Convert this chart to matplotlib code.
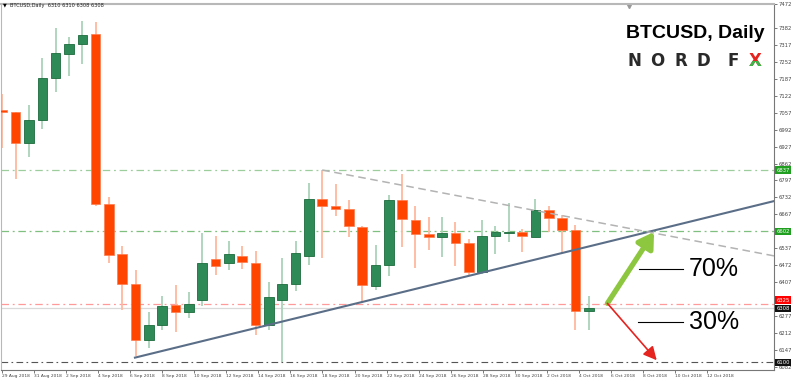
import numpy as np
import matplotlib.pyplot as plt
from matplotlib.patches import Rectangle

# daily BTCUSD candles
opens = [7069, 7058, 6939, 7027, 7190, 7281, 7320, 7360, 6707, 6517,
         6402, 6185, 6242, 6318, 6292, 6337, 6497, 6482, 6509, 6482,
         6242, 6337, 6402, 6506, 6727, 6700, 6687, 6619, 6392, 6474,
         6722, 6646, 6592, 6581, 6594, 6557, 6445, 6585, 6597, 6600,
         6581, 6684, 6655, 6608, 6297]
highs = [7130, 7060, 7085, 7267, 7382, 7348, 7409, 7405, 6734, 6547,
         6452, 6292, 6353, 6395, 6368, 6597, 6585, 6566, 6547, 6528,
         6406, 6498, 6566, 6788, 6837, 6782, 6722, 6621, 6551, 6741,
         6823, 6700, 6658, 6658, 6636, 6573, 6645, 6623, 6710, 6612,
         6725, 6700, 6665, 6627, 6354]
lows = [6921, 6802, 6887, 6994, 7135, 7199, 7243, 6699, 6482, 6299,
        6124, 6154, 6223, 6215, 6269, 6315, 6433, 6452, 6459, 6204,
        6223, 6101, 6375, 6473, 6499, 6661, 6579, 6331, 6378, 6429,
        6543, 6462, 6531, 6502, 6468, 6433, 6440, 6515, 6560, 6524,
        6581, 6600, 6519, 6223, 6223]
closes = [7058, 6939, 7030, 7191, 7284, 7320, 7355, 6707, 6513, 6402,
          6185, 6242, 6315, 6292, 6322, 6482, 6471, 6517, 6486, 6242,
          6349, 6402, 6520, 6727, 6700, 6687, 6621, 6395, 6474, 6722,
          6649, 6592, 6581, 6594, 6557, 6445, 6585, 6598, 6600, 6585,
          6684, 6653, 6608, 6295, 6308]

date_labels = ["29 Aug 2018", "31 Aug 2018", "2 Sep 2018", "4 Sep 2018",
               "6 Sep 2018", "8 Sep 2018", "10 Sep 2018", "12 Sep 2018",
               "14 Sep 2018", "16 Sep 2018", "18 Sep 2018", "20 Sep 2018",
               "22 Sep 2018", "24 Sep 2018", "26 Sep 2018", "28 Sep 2018",
               "30 Sep 2018", "2 Oct 2018", "4 Oct 2018", "6 Oct 2018",
               "8 Oct 2018", "10 Oct 2018", "12 Oct 2018"]
# scale labels (the ones hidden behind price tags are left out)
price_ticks = [6082, 6147, 6212, 6277, 6407, 6472, 6537, 6667,
               6732, 6797, 6862, 6927, 6992, 7057, 7122, 7187, 7252, 7317,
               7382, 7472]

level_hi = 6837      # upper horizontal
level_mid = 6602     # breakout level
level_sup = 6325     # red level
level_bid = 6308     # last price
level_low = 6100     # bottom level

support = ([9.95, 57.9], [6118, 6718])
resist = ([24, 57.9], [6837, 6508])

UP, DN = '#2e8b57', '#ff4500'

fig = plt.figure(figsize=(8, 3.81), dpi=100)
ax = fig.add_axes([1/800, 11/381, 773/800, 366/381])
ax.set_xlim(-0.1, 57.9)
ax.set_ylim(6070.6, 7473.4)

x = np.arange(len(opens))
o, h, l, c = map(np.array, (opens, highs, lows, closes))
bull = c >= o
wick_col = np.where(bull, '#aad3b8', '#ffb99e')
ax.vlines(x, l, h, colors=wick_col, lw=1.3, zorder=2)
body = np.maximum(np.abs(c - o), 3)
ax.bar(x[bull], body[bull], bottom=np.minimum(o, c)[bull], width=0.72,
       color=UP, edgecolor='#1d6b3d', lw=0.6, zorder=3)
ax.bar(x[~bull], body[~bull], bottom=np.minimum(o, c)[~bull], width=0.72,
       color=DN, edgecolor='#ff7a4a', lw=0.5, zorder=3)

dd = (0, (6, 3, 1.5, 3))
ax.axhline(level_hi, color='#9dcc9d', lw=0.9, ls=dd, zorder=1)
ax.axhline(level_mid, color='#7fbf7f', lw=0.9, ls=dd, zorder=1)
ax.axhline(level_sup, color='#ff9a9a', lw=0.9, ls=dd, zorder=1)
ax.axhline(level_bid, color='#d9d9d9', lw=0.9, zorder=1)
ax.axhline(level_low, color='#555555', lw=0.8, ls=dd, zorder=1)

ax.plot(*support, color='#5b6e88', lw=1.5, zorder=4)
ax.plot(*resist, color='#b3b3b3', lw=1.1, ls=(0, (5, 3)), zorder=4)

# scenario arrows
ax.annotate('', xy=(48.9, 6600), xytext=(45.4, 6326),
            arrowprops=dict(arrowstyle='-|>,head_length=0.9,head_width=0.55',
                            color='#8dc63f', lw=3.8, shrinkA=0, shrinkB=0), zorder=5)
ax.annotate('', xy=(49.1, 6108), xytext=(45.4, 6326),
            arrowprops=dict(arrowstyle='-|>,head_length=0.8,head_width=0.4',
                            color='#e5231f', lw=1.2, shrinkA=0, shrinkB=0), zorder=5)
ax.plot([47.8, 51.1], [6459, 6459], color='black', lw=0.8, zorder=5)
ax.plot([47.7, 51.1], [6253, 6253], color='black', lw=0.8, zorder=5)
ax.text(53.4, 6459, '70%', fontsize=18, ha='center', va='center',
        family='Liberation Sans', zorder=6)
ax.text(53.4, 6253, '30%', fontsize=18, ha='center', va='center',
        family='Liberation Sans', zorder=6)

# axes styling, MT4-like
ax.yaxis.tick_right()
ax.set_yticks(price_ticks)
ax.set_yticklabels([str(v) for v in price_ticks])
ax.set_xticks(-0.045 + 2.4066 * np.arange(len(date_labels)))
ax.set_xticklabels(date_labels, ha='left')
ax.tick_params(axis='both', length=2, width=0.5, colors='#444444', pad=1)
ax.tick_params(axis='y', labelsize=3.8)
ax.tick_params(axis='x', labelsize=3.2)
for s in ('left', 'top'):
    ax.spines[s].set_color('#b8b8b8')
ax.spines['top'].set_linewidth(1.5)
for s in ('right', 'bottom'):
    ax.spines[s].set_color('#777777')
    ax.spines[s].set_linewidth(0.8)

# price tags on the right scale
tags = [(level_hi, '6837', '#1f9e1f'), (level_mid, '6602', '#1f9e1f'),
        (6338, '6325', '#ff0000'), (6306, '6308', '#111111'),
        (level_low, '6100', '#111111')]
tr = ax.get_yaxis_transform()
for y, t, col in tags:
    ax.text(1.003, y, t, transform=tr, fontsize=3.8, color='white',
            va='center', ha='left', zorder=7, clip_on=False,
            bbox=dict(boxstyle='square,pad=0.25', fc=col, ec='none'))

# header and logo
fig.text(3/800, 1 - 5/381, '▼', fontsize=3.5, va='center', ha='left')
fig.text(10/800, 1 - 5/381, 'BTCUSD,Daily  6310 6310 6308 6308', fontsize=3.6,
         va='center', ha='left', color='#222222')
ax.plot([0.812], [0.995], marker='v', ms=3, color='#999999',
        transform=ax.transAxes, clip_on=False)
fig.text(765/800, 1 - 34/381, 'BTCUSD, Daily', fontsize=14, weight='bold',
         family='Liberation Sans', ha='right', va='center')
for ch, px in zip('NORDF', [634, 657, 681, 703, 733]):
    fig.text(px/800, 1 - 61/381, ch, fontsize=12, weight='bold',
             color='#2a2a2a', ha='center', va='center', family='DejaVu Sans')
xr = fig.text(755/800, 1 - 61/381, 'X', fontsize=12, weight='bold',
              color='#e5231f', ha='center', va='center', family='DejaVu Sans')
xg = fig.text(755/800, 1 - 61/381, 'X', fontsize=12, weight='bold',
              color='#3ab54a', ha='center', va='center', family='DejaVu Sans')
clip = Rectangle((740/800, 1 - 70/381), 30/800, 9/381, transform=fig.transFigure)
xg.set_clip_path(clip)
xg.set_clip_on(True)

fig.savefig('out.png', dpi=100)
